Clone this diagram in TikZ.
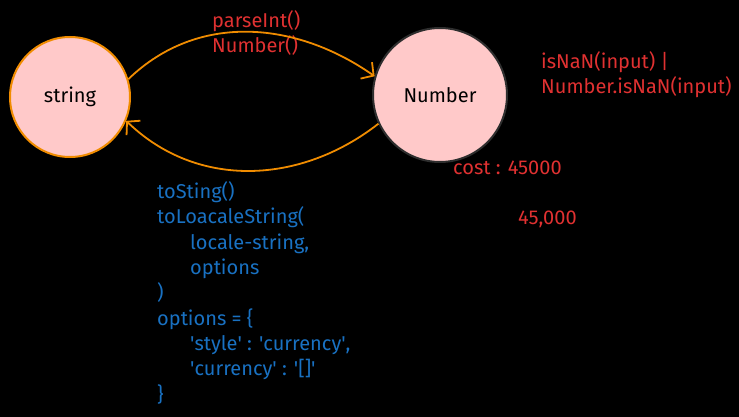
\documentclass[tikz,border=0pt]{standalone}
\usepackage{fontspec}
\setmainfont{Fira Sans}
\usetikzlibrary{arrows.meta}
\definecolor{statefill}{HTML}{FFC9C9}
\definecolor{orangeline}{HTML}{F08C00}
\definecolor{darkline}{HTML}{2E2E2E}
\definecolor{redtext}{HTML}{E03131}
\definecolor{bluetext}{HTML}{1971C2}
\newcommand{\sq}{\textquotesingle}
\begin{document}
\begin{tikzpicture}[x=1pt, y=-1pt,
    font=\fontsize{20}{25.3}\selectfont,
    state/.style = {circle, fill=statefill, line width=2pt, inner sep=0pt, text=black},
    note/.style = {anchor=base west, inner sep=0pt, align=left},
    conv/.style = {line width=1.8pt, draw=orangeline, -{Straight Barb[length=9pt, width=20pt, line width=1.8pt]}}]
    \fill[black] (0,0) rectangle (739,417);
    \useasboundingbox (0,0) rectangle (739,417);

    \node [state, draw=orangeline, minimum size=120pt] (str) at (70,97) {string};
    \node [state, draw=darkline, minimum size=134pt] (num) at (440,95) {Number};

    % base of a multi-line note is its last line
    \node [note, text=redtext] (parse) at (212,53) {parseInt()\\Number()};
    \node [note, text=redtext] (isnan) at (541,94) {isNaN(input) |\\Number.isNaN(input)};
    \node [note, text=redtext] (cost) at (453,175) {cost : 45000};
    \node [note, text=redtext] (formatted) at (518,224) {45,000};
    \node [note, text=bluetext] (tostr) at (157,401) {toSting()\\toLoacaleString(\\
        \hspace*{33pt}locale-string,\\
        \hspace*{33pt}options\\
        )\\
        options = \{\\
        \hspace*{33pt}\sq style\sq{} : \sq currency\sq,\\
        \hspace*{33pt}\sq currency\sq{} : \sq[]\sq\\
        \}};

    \draw[conv] (str.17) to[out=44, in=145] (num.164);
    \draw[conv] (num.205) to[out=218, in=-44] (str.-23);
\end{tikzpicture}
\end{document}
